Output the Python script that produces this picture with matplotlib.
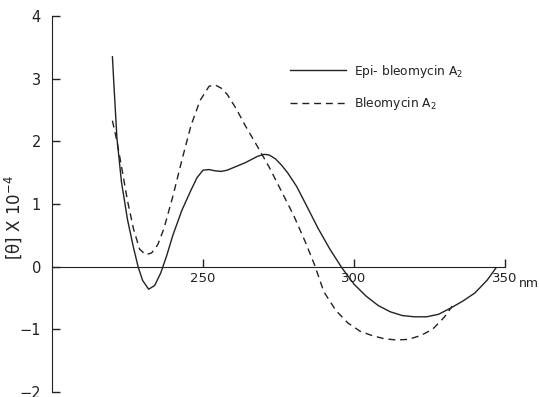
import numpy as np
import matplotlib
matplotlib.use('Agg')
import matplotlib.pyplot as plt

# wavelength (nm) and molar ellipticity x 10^-4
epi_nm = [220, 220.5, 221.5, 223, 225, 227, 228.5, 230, 232, 234, 236, 238, 240,
          243, 246, 248, 250, 252, 254, 256, 258, 260, 262, 264, 266, 268, 270,
          271, 272, 274, 276, 278, 281, 284, 288, 292, 296, 300, 304, 308, 312,
          316, 320, 324, 328, 332, 336, 340, 344, 347]
epi_val = [3.35, 2.9, 2.05, 1.35, 0.75, 0.3, 0.0, -0.22, -0.36, -0.3, -0.1, 0.18, 0.5,
           0.9, 1.22, 1.42, 1.54, 1.55, 1.53, 1.52, 1.54, 1.58, 1.62, 1.66, 1.71, 1.76, 1.79,
           1.79, 1.78, 1.72, 1.62, 1.5, 1.28, 1.0, 0.62, 0.28, -0.02, -0.28, -0.47, -0.62, -0.72,
           -0.78, -0.8, -0.8, -0.76, -0.66, -0.55, -0.42, -0.22, -0.02]

blm_nm = [220, 221.5, 223, 225, 227, 229, 231, 233, 235, 237, 240, 243, 246, 249,
          252, 254, 256, 258, 261, 264, 268, 272, 276, 280, 284, 287, 290, 294,
          298, 302, 306, 310, 314, 318, 322, 326, 330, 332.5]
blm_val = [2.33, 2.0, 1.6, 1.05, 0.6, 0.28, 0.19, 0.22, 0.35, 0.6, 1.12, 1.7, 2.25, 2.65,
           2.88, 2.9, 2.85, 2.75, 2.52, 2.25, 1.92, 1.58, 1.2, 0.82, 0.38, 0.02, -0.4, -0.7,
           -0.9, -1.03, -1.1, -1.15, -1.17, -1.16, -1.1, -1.0, -0.8, -0.63]

xticks = [250, 300, 350]
yticks = [-2, -1, 0, 1, 2, 3, 4]

fig = plt.figure(figsize=(5.39, 3.97), dpi=100)
ax = fig.add_axes([0.0965, 0.0126, 0.8405, 0.947])

ink = '#222222'
ax.plot(epi_nm, epi_val, c=ink, lw=1.0, label='Epi- bleomycin A$_2$')
ax.plot(blm_nm, blm_val, c=ink, lw=1.0, ls=(0, (5, 3.5)), label='Bleomycin A$_2$')

ax.set_xlim(200, 350)
ax.set_ylim(-2, 4)

# axis styling like the original drawing
ax.spines['top'].set_visible(False)
ax.spines['right'].set_visible(False)
ax.spines['bottom'].set_position(('data', 0))
ax.spines['left'].set_color(ink)
ax.spines['bottom'].set_color(ink)
ax.set_xticks(xticks)
ax.set_yticks(yticks)
ax.tick_params(axis='both', direction='in', length=6, width=1, colors=ink, labelsize=10.5)
ax.tick_params(axis='x', pad=4, labelsize=9.5)
ax.tick_params(axis='y', pad=8)
ax.text(354.5, -0.16, 'nm', fontsize=9, color=ink, ha='left', va='top', clip_on=False)

ax.set_ylabel('[θ] X 10$^{-4}$', fontsize=12, color=ink)
ax.yaxis.set_label_coords(-0.062, 0.463)

leg = ax.legend(loc='upper left', bbox_to_anchor=(0.5, 0.905), frameon=False,
                handlelength=4.6, labelspacing=1.25, fontsize=8.8, handletextpad=0.7)
for t in leg.get_texts():
    t.set_color(ink)

fig.savefig('out.png', dpi=100)
